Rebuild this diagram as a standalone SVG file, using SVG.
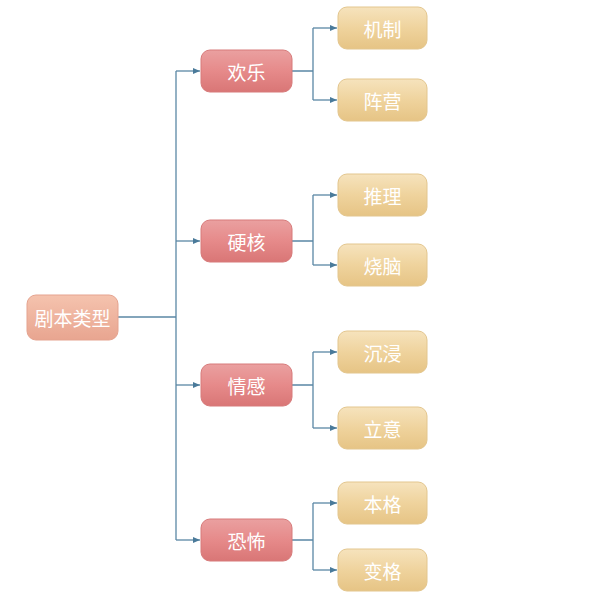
<svg xmlns="http://www.w3.org/2000/svg" width="600" height="611" viewBox="0 0 600 611">
<defs>
<linearGradient id="gr" x1="0" y1="0" x2="0" y2="1"><stop offset="0" stop-color="#eaa0a0"/><stop offset="0.5" stop-color="#e68a8a"/><stop offset="1" stop-color="#d97676"/></linearGradient>
<linearGradient id="gp" x1="0" y1="0" x2="0" y2="1"><stop offset="0" stop-color="#f5c3ae"/><stop offset="1" stop-color="#e8a590"/></linearGradient>
<linearGradient id="gy" x1="0" y1="0" x2="0" y2="1"><stop offset="0" stop-color="#f6e3bd"/><stop offset="0.5" stop-color="#efd39d"/><stop offset="1" stop-color="#e6c485"/></linearGradient>
<marker id="ar" markerWidth="8" markerHeight="8" refX="7" refY="4" orient="auto" markerUnits="userSpaceOnUse"><path d="M0,1 L7,4 L0,7 Z" fill="#4a7a9a"/></marker>
</defs>
<style>
.c{fill:none;stroke:#5a87a5;stroke-width:1.3}
.t{font-family:"Noto Sans CJK SC","Noto Sans",sans-serif;font-size:19px;fill:#fff;text-anchor:middle;dominant-baseline:central}
.r{fill:url(#gr);stroke:#d77b7b}
.p{fill:url(#gp);stroke:#e5a38f}
.y{fill:url(#gy);stroke:#e3c68e}
</style>
<rect width="600" height="611" fill="#fff"/>
<g id="connectors">
<path class="c" d="M118,317 H176"/>
<path class="c" d="M176,71 V540"/>
<path class="c" marker-end="url(#ar)" d="M176,71 H200"/>
<path class="c" marker-end="url(#ar)" d="M176,241 H200"/>
<path class="c" marker-end="url(#ar)" d="M176,385 H200"/>
<path class="c" marker-end="url(#ar)" d="M176,540 H200"/>
<path class="c" d="M292,71 H313 M313,28 V100 M292,241 H313 M313,195 V265 M292,385 H313 M313,352 V428 M292,540 H313 M313,503 V570"/>
<path class="c" marker-end="url(#ar)" d="M313,28 H337"/>
<path class="c" marker-end="url(#ar)" d="M313,100 H337"/>
<path class="c" marker-end="url(#ar)" d="M313,195 H337"/>
<path class="c" marker-end="url(#ar)" d="M313,265 H337"/>
<path class="c" marker-end="url(#ar)" d="M313,352 H337"/>
<path class="c" marker-end="url(#ar)" d="M313,428 H337"/>
<path class="c" marker-end="url(#ar)" d="M313,503 H337"/>
<path class="c" marker-end="url(#ar)" d="M313,570 H337"/>
</g>
<g id="root"><rect class="p" x="27" y="295" width="91" height="45" rx="9"/><text class="t" x="72.5" y="317">剧本类型</text></g>
<g id="huanle"><rect class="r" x="201" y="50" width="91" height="42" rx="9"/><text class="t" x="246.5" y="71">欢乐</text></g>
<g id="yinghe"><rect class="r" x="201" y="220" width="91" height="42" rx="9"/><text class="t" x="246.5" y="241">硬核</text></g>
<g id="qinggan"><rect class="r" x="201" y="364" width="91" height="42" rx="9"/><text class="t" x="246.5" y="385">情感</text></g>
<g id="kongbu"><rect class="r" x="201" y="519" width="91" height="42" rx="9"/><text class="t" x="246.5" y="540">恐怖</text></g>
<g id="jizhi"><rect class="y" x="338" y="7" width="89" height="42" rx="9"/><text class="t" x="382.5" y="28">机制</text></g>
<g id="zhenying"><rect class="y" x="338" y="79" width="89" height="42" rx="9"/><text class="t" x="382.5" y="100">阵营</text></g>
<g id="tuili"><rect class="y" x="338" y="174" width="89" height="42" rx="9"/><text class="t" x="382.5" y="195">推理</text></g>
<g id="shaonao"><rect class="y" x="338" y="244" width="89" height="42" rx="9"/><text class="t" x="382.5" y="265">烧脑</text></g>
<g id="chenjin"><rect class="y" x="338" y="331" width="89" height="42" rx="9"/><text class="t" x="382.5" y="352">沉浸</text></g>
<g id="liyi"><rect class="y" x="338" y="407" width="89" height="42" rx="9"/><text class="t" x="382.5" y="428">立意</text></g>
<g id="bengge"><rect class="y" x="338" y="482" width="89" height="42" rx="9"/><text class="t" x="382.5" y="503">本格</text></g>
<g id="biange"><rect class="y" x="338" y="549" width="89" height="42" rx="9"/><text class="t" x="382.5" y="570">变格</text></g>
</svg>
